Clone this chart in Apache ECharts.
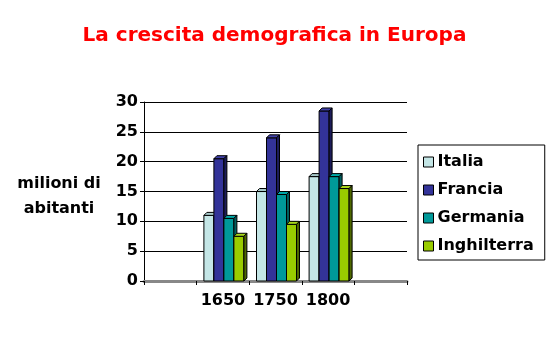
<!DOCTYPE html>
<html>
<head>
<meta charset="utf-8">
<script src="https://cdn.jsdelivr.net/npm/echarts@6/dist/echarts.min.js"></script>
<style>
  html, body { margin: 0; padding: 0; background: #fff; }
  #chart { width: 549px; height: 352px; }
</style>
</head>
<body>
<div id="chart"></div>
<script>
// blank slots at both ends, like the original sheet
const categories = ['', '1650', '1750', '1800', ''];
const countries = ['Italia', 'Francia', 'Germania', 'Inghilterra'];
const italia = [null, 11.5, 15.5, 18, null];
const francia = [null, 21, 24.5, 29, null];
const germania = [null, 11, 15, 18, null];
const inghilterra = [null, 8, 10, 16, null];
const yTicks = [0, 5, 10, 15, 20, 25, 30];

// front / top / side shades per country
const palette = [
  {front: '#C4E6E6', top: '#A6C8C8', side: '#8FB0B0'},
  {front: '#333399', top: '#4040A8', side: '#1C1C5A'},
  {front: '#009999', top: '#00A8A8', side: '#005E5E'},
  {front: '#99CC00', top: '#A8D81A', side: '#4E6800'},
];

const FONT = "'DejaVu Sans', Verdana, sans-serif";
const BAR_W = 10;
const DEPTH = 3;

function make3dBar(idx) {
  return function (params, api) {
    const v = api.value(1);
    if (v == null || isNaN(v)) return;
    const cat = api.value(0);
    const back = api.coord([cat, v]);
    const base = api.coord([cat, 0]);
    const x = back[0] - 2 * BAR_W + 1 + idx * BAR_W;
    const yTop = back[1] + DEPTH;   // front face top, back edge sits on the value
    const yBot = base[1];
    const c = palette[idx];
    const stroke = {stroke: '#000', lineWidth: 1};
    return {
      type: 'group',
      children: [
        {type: 'rect', shape: {x: x, y: yTop, width: BAR_W, height: yBot - yTop},
          style: Object.assign({fill: c.front}, stroke)},
        {type: 'polygon', shape: {points: [[x, yTop], [x + DEPTH, yTop - DEPTH],
            [x + BAR_W + DEPTH, yTop - DEPTH], [x + BAR_W, yTop]]},
          style: Object.assign({fill: c.top}, stroke)},
        {type: 'polygon', shape: {points: [[x + BAR_W, yTop], [x + BAR_W + DEPTH, yTop - DEPTH],
            [x + BAR_W + DEPTH, yBot - DEPTH], [x + BAR_W, yBot]]},
          style: Object.assign({fill: c.side}, stroke)},
      ],
    };
  };
}

const seriesData = [italia, francia, germania, inghilterra];

const chart = echarts.init(document.getElementById('chart'));
chart.setOption({
  animation: false,
  title: {
    text: 'La crescita demografica in Europa',
    left: 'center',
    top: 21,
    textStyle: {color: '#FF0000', fontSize: 20, fontWeight: 'bold', fontFamily: FONT},
  },
  graphic: [{
    type: 'text',
    x: 59,
    y: 171,
    style: {
      text: 'milioni di\nabitanti',
      font: 'bold 16px ' + FONT,
      fill: '#000',
      align: 'center',
      verticalAlign: 'top',
      lineHeight: 25,
    },
  }],
  legend: {
    orient: 'vertical',
    left: 418,
    top: 145,
    padding: [9, 11, 6, 5],
    itemGap: 12,
    itemWidth: 10,
    itemHeight: 10,
    icon: 'rect',
    borderColor: '#000',
    borderWidth: 1,
    borderRadius: 0,
    itemStyle: {borderColor: '#000', borderWidth: 1},
    textStyle: {color: '#000', fontSize: 16, fontWeight: 'bold', fontFamily: FONT, padding: [0, 0, 0, -1]},
    data: countries,
  },
  grid: {left: 144, right: 142, top: 102, bottom: 71, containLabel: false},
  xAxis: {
    type: 'category',
    data: categories,
    boundaryGap: true,
    axisLine: {lineStyle: {color: '#888', width: 3}},
    axisTick: {show: true, length: 4, interval: 0, lineStyle: {color: '#000'}},
    axisLabel: {color: '#000', fontSize: 16, fontWeight: 'bold', fontFamily: FONT, margin: 12, interval: 0},
    splitLine: {show: false},
  },
  yAxis: {
    type: 'value',
    min: yTicks[0],
    max: yTicks[yTicks.length - 1],
    interval: 5,
    axisLine: {show: true, lineStyle: {color: '#000', width: 1}},
    axisTick: {show: true, length: 4, lineStyle: {color: '#000'}},
    axisLabel: {color: '#000', fontSize: 16, fontWeight: 'bold', fontFamily: FONT, margin: 6},
    splitLine: {lineStyle: {color: '#000', width: 1}},
  },
  series: countries.map((name, i) => ({
    name: name,
    type: 'custom',
    renderItem: make3dBar(i),
    itemStyle: {color: palette[i].front},
    encode: {x: 0, y: 1},
    data: seriesData[i].map((v, ci) => [ci, v]),
    z: 2 + i,
  })),
});
</script>
</body>
</html>
